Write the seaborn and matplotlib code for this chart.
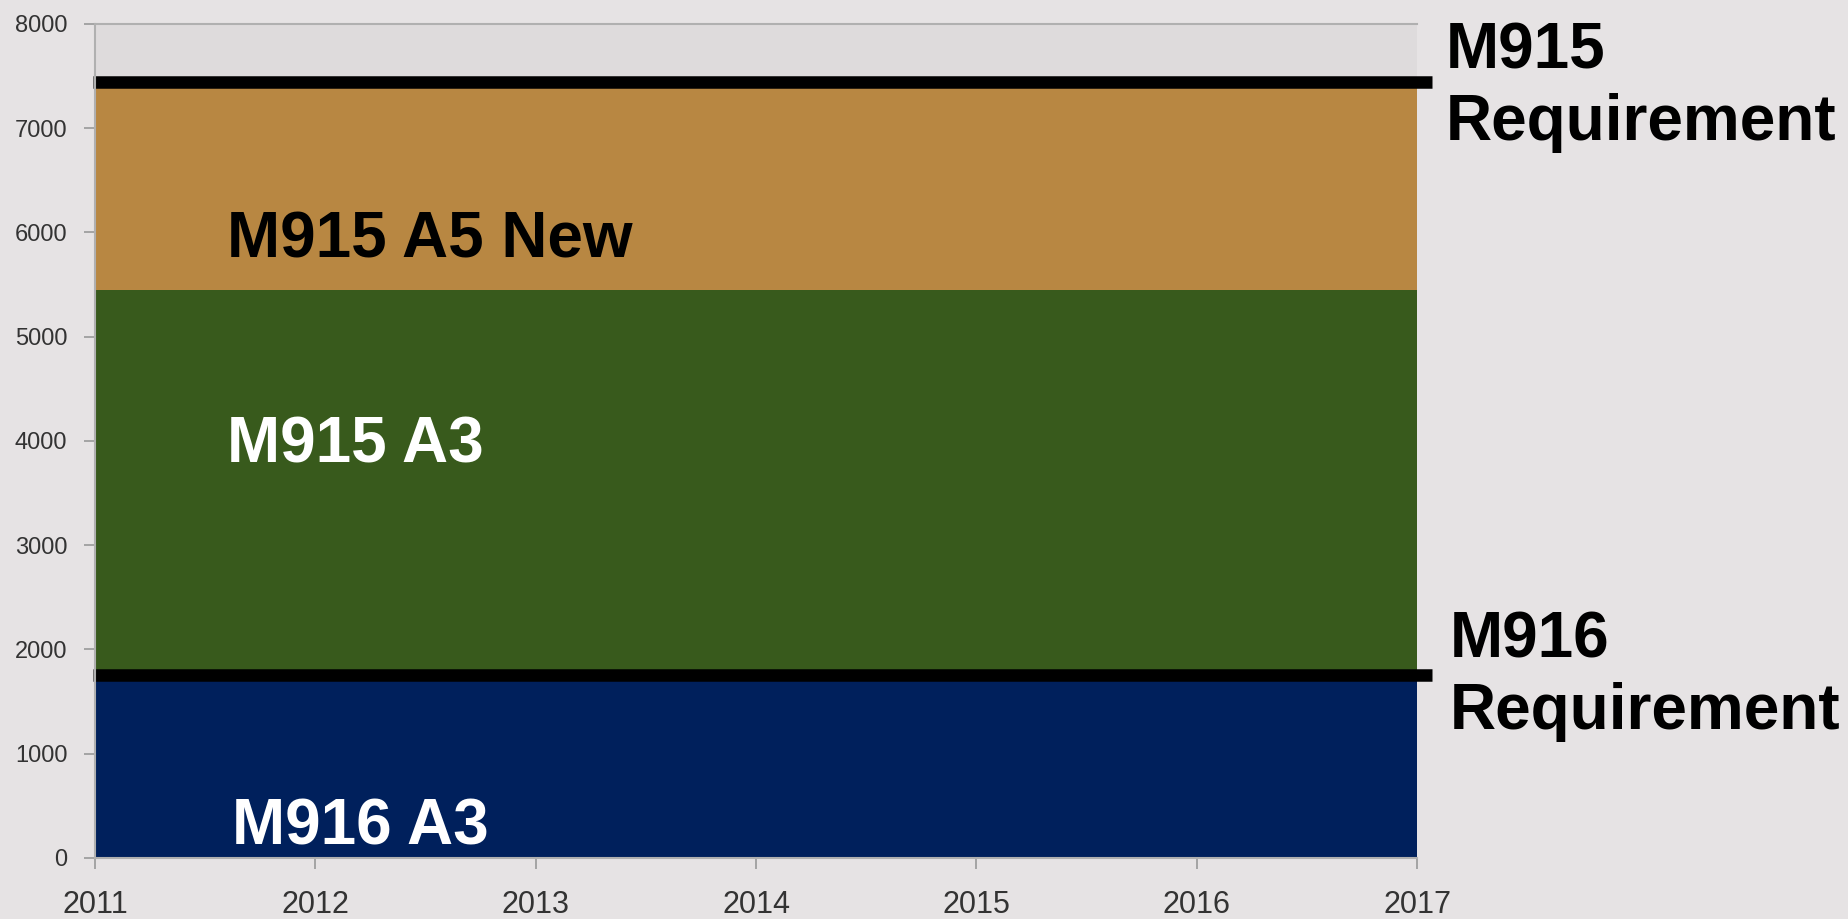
import numpy as np
import pandas as pd
import matplotlib
matplotlib.use('Agg')
import matplotlib.pyplot as plt
import seaborn as sns

# data (flat totals per year)
years = [2011, 2012, 2013, 2014, 2015, 2016, 2017]
m916_a3 = [1800, 1800, 1800, 1800, 1800, 1800, 1800]
m915_a3 = [3650, 3650, 3650, 3650, 3650, 3650, 3650]
m915_a5_new = [1970, 1970, 1970, 1970, 1970, 1970, 1970]
m915_req = 7440
m916_req = 1760
line_x = [2010.99, 2017.07]

sns.set_theme(style='white')
plt.rcParams['font.family'] = ['Liberation Sans', 'DejaVu Sans']

bg = '#e6e3e4'
fig = plt.figure(figsize=(18.49, 9.19), dpi=100, facecolor=bg)
ax = fig.add_axes([0.0514, 0.0664, 0.715, 0.9075])
ax.set_facecolor('#dedbdc')

ax.stackplot(years, m916_a3, m915_a3, m915_a5_new,
             colors=['#00205c', '#385a1c', '#b88742'], linewidth=0)

# requirement lines, running a bit past the plot edges
req = pd.DataFrame({'x': line_x + line_x,
                    'y': [m915_req] * 2 + [m916_req] * 2,
                    'which': ['M915'] * 2 + ['M916'] * 2})
sns.lineplot(data=req, x='x', y='y', units='which', estimator=None,
             color='black', linewidth=9, solid_capstyle='butt',
             clip_on=False, ax=ax, legend=False)

ax.set_xlim(2011, 2017)
ax.set_ylim(0, 8000)
ax.set_xticks(years)
ax.set_yticks(range(0, 8001, 1000))
ax.set_xlabel('')
ax.set_ylabel('')
ax.tick_params(axis='y', labelsize=17, colors='#999999', labelcolor='#333333',
               length=8, width=1.2, direction='out', left=True, pad=12)
ax.tick_params(axis='x', labelsize=22, colors='#999999', labelcolor='#333333',
               length=8, width=1.2, direction='out', bottom=True, pad=15)
for s in ['left', 'bottom', 'top']:
    ax.spines[s].set_color('#b0b0b0')
    ax.spines[s].set_linewidth(1.5)
ax.spines['right'].set_visible(False)

lab = dict(fontsize=46, fontweight='bold', va='center', ha='left')
ax.text(2011.6, 5920, 'M915 A5 New', color='black', **lab)
ax.text(2011.6, 3952, 'M915 A3', color='white', **lab)
ax.text(2011.62, 290, 'M916 A3', color='white', **lab)
ax.text(2017.13, 7390, 'M915\nRequirement', color='black', clip_on=False,
        linespacing=1.25, **lab)
ax.text(2017.15, 1740, 'M916\nRequirement', color='black', clip_on=False,
        linespacing=1.25, **lab)

fig.savefig('out.png', dpi=100, facecolor=bg)
